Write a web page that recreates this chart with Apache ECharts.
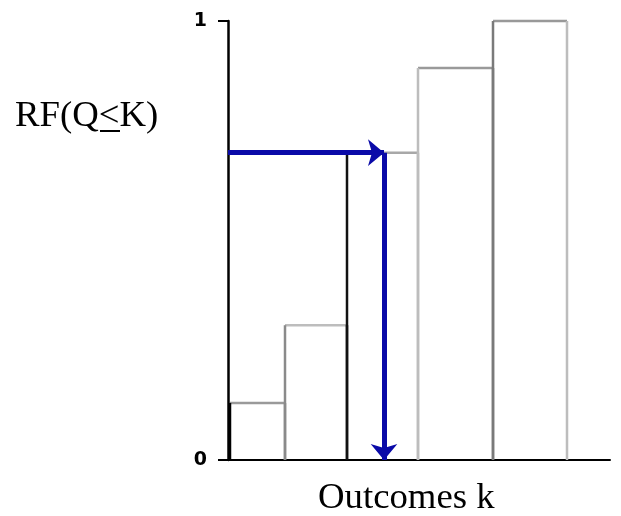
<!DOCTYPE html>
<html><head><meta charset="utf-8">
<script src="https://cdn.jsdelivr.net/npm/echarts@6/dist/echarts.min.js"></script>
<style>html,body{margin:0;padding:0;background:#fff}#c{width:621px;height:516px}</style>
</head><body><div id="c"></div>
<script>
// Bin edges along the outcome axis and cumulative relative frequencies
var binEdges = [0.04, 1.14, 2.38, 3.8, 5.3, 6.78];
var cumFreq = [0.13, 0.307, 0.70, 0.893, 1.0];
var arrowX = 3.12;
var arrowY = 0.70;
var yTicks = [0, 1];
var yTitle = 'RF(Q<K)';
var xTitle = 'Outcomes k';

// stroke styles (not data)
var edgeColors = ['#000', '#8a8a8a', '#111', '#bdbdbd', '#7a7a7a', '#bdbdbd'];
var topColors = ['#9a9a9a', '#bdbdbd', '#a8a8a8', '#9a9a9a', '#999'];

var barData = cumFreq.map(function (v, i) { return [binEdges[i], binEdges[i + 1], v, i]; });

var chart = echarts.init(document.getElementById('c'), null, { renderer: 'canvas' });
chart.setOption({
  animation: false,
  grid: { left: 228, right: 11, top: 21, bottom: 56 },
  xAxis: {
    type: 'value', min: 0, max: 7.64,
    axisLine: { show: true, lineStyle: { color: '#000', width: 2 } },
    axisTick: { show: false }, axisLabel: { show: false }, splitLine: { show: false }
  },
  yAxis: {
    type: 'value', min: yTicks[0], max: yTicks[1], interval: 1,
    axisLine: { show: true, lineStyle: { color: '#000', width: 2.5 } },
    axisTick: { show: true, length: 10, lineStyle: { color: '#000', width: 2 } },
    axisLabel: { margin: 21, color: '#000', fontWeight: 900, fontSize: 19, fontFamily: 'DejaVu Sans' },
    splitLine: { show: false }
  },
  series: [{
    type: 'custom',
    data: barData,
    renderItem: function (params, api) {
      var i = api.value(3);
      var p0 = api.coord([api.value(0), 0]);
      var p1 = api.coord([api.value(1), api.value(2)]);
      var lw = 2.5;
      return {
        type: 'group',
        children: [
          { type: 'line', shape: { x1: p0[0], y1: p1[1], x2: p1[0], y2: p1[1] }, style: { stroke: topColors[i], lineWidth: lw } },
          { type: 'line', shape: { x1: p1[0], y1: p0[1], x2: p1[0], y2: p1[1] }, style: { stroke: edgeColors[i + 1], lineWidth: lw } },
          { type: 'line', shape: { x1: p0[0], y1: p0[1], x2: p0[0], y2: p1[1] }, style: { stroke: edgeColors[i], lineWidth: lw } }
        ]
      };
    },
    markLine: {
      silent: true,
      symbol: ['none', 'arrow'],
      symbolSize: [20, 16],
      label: { show: false },
      lineStyle: { color: '#0a0aa8', width: 5, type: 'solid' },
      data: [
        [{ coord: [0, arrowY] }, { coord: [arrowX, arrowY] }],
        [{ coord: [arrowX, arrowY] }, { coord: [arrowX, 0] }]
      ]
    }
  }],
  graphic: [
    { type: 'text', x: 15, y: 99, scaleX: 1.05, style: { text: yTitle, font: '35px "Liberation Serif"', fill: '#000' } },
    { type: 'rect', shape: { x: 100, y: 130, width: 20, height: 2 }, style: { fill: '#000' } },
    { type: 'text', x: 318, y: 481, scaleX: 1.05, style: { text: xTitle, font: '35px "Liberation Serif"', fill: '#000' } }
  ]
});
</script></body></html>
